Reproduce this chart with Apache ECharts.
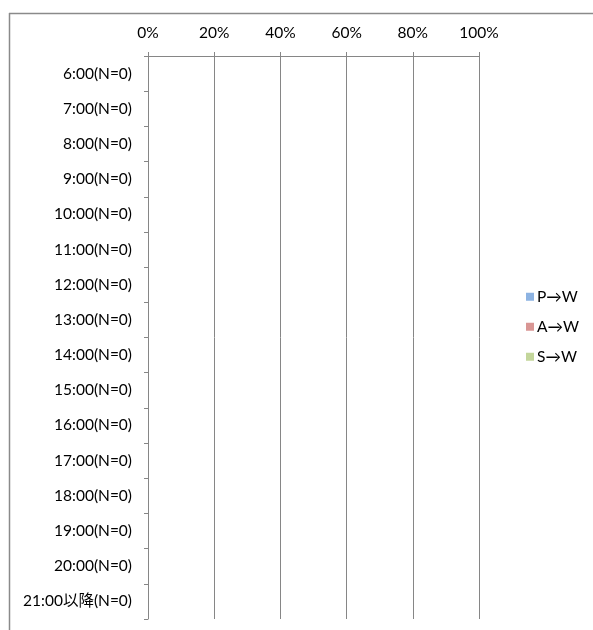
<!DOCTYPE html>
<html><head><meta charset="utf-8">
<script src="https://cdn.jsdelivr.net/npm/echarts@6/dist/echarts.min.js"></script>
<style>html,body{margin:0;padding:0;background:#fff}#c{width:593px;height:630px}</style>
</head><body><div id="c"></div>
<script>
const categories = ['6:00(N=0)','7:00(N=0)','8:00(N=0)','9:00(N=0)','10:00(N=0)','11:00(N=0)','12:00(N=0)','13:00(N=0)','14:00(N=0)','15:00(N=0)','16:00(N=0)','17:00(N=0)','18:00(N=0)','19:00(N=0)','20:00(N=0)','21:00以降(N=0)'];
const seriesNames = ['P→W','A→W','S→W'];
const valuesPW = [0,0,0,0,0,0,0,0,0,0,0,0,0,0,0,0];
const valuesAW = [0,0,0,0,0,0,0,0,0,0,0,0,0,0,0,0];
const valuesSW = [0,0,0,0,0,0,0,0,0,0,0,0,0,0,0,0];
const colors = ['#8DB3E2','#D99694','#C3D69B'];
const font = 'Lato, "Noto Sans CJK JP", sans-serif';
const fs = 15.5;

const chart = echarts.init(document.getElementById('c'), null, {renderer:'canvas'});
chart.setOption({
  animation:false,
  color: colors,
  textStyle:{fontFamily:font, color:'#000'},
  graphic:[
    {type:'line', shape:{x1:9.5,y1:13,x2:9.5,y2:630}, style:{stroke:'#8a8a8a', lineWidth:1.5}},
    {type:'line', shape:{x1:9,y1:13.5,x2:593,y2:13.5}, style:{stroke:'#8a8a8a', lineWidth:1.5}}
  ],
  legend:{
    orient:'vertical', left:521, top:284,
    itemWidth:8, itemHeight:8, itemGap:14.5, icon:'rect',
    textStyle:{fontFamily:font, fontSize:fs, color:'#000', padding:[0,0,0,-2]},
    data: seriesNames
  },
  grid:{left:148, right:114, top:56, bottom:11, containLabel:false},
  xAxis:{
    type:'value', position:'top', min:0, max:100, interval:20,
    axisLine:{show:true, lineStyle:{color:'#868686'}},
    axisTick:{show:true, length:4, lineStyle:{color:'#868686'}},
    splitLine:{show:true, lineStyle:{color:'#868686'}},
    axisLabel:{formatter:'{value}%', fontSize:fs, color:'#000', margin:15, fontFamily:font}
  },
  yAxis:{
    type:'category', inverse:true, data:categories,
    axisLine:{show:true, lineStyle:{color:'#868686'}},
    axisTick:{show:true, length:4, lineStyle:{color:'#868686'}},
    axisLabel:{fontSize:fs, color:'#000', margin:16, fontFamily:font}
  },
  series:[
    {name:seriesNames[0], type:'bar', stack:'s', data:valuesPW, barWidth:'60%'},
    {name:seriesNames[1], type:'bar', stack:'s', data:valuesAW, barWidth:'60%'},
    {name:seriesNames[2], type:'bar', stack:'s', data:valuesSW, barWidth:'60%'}
  ]
});
</script></body></html>
